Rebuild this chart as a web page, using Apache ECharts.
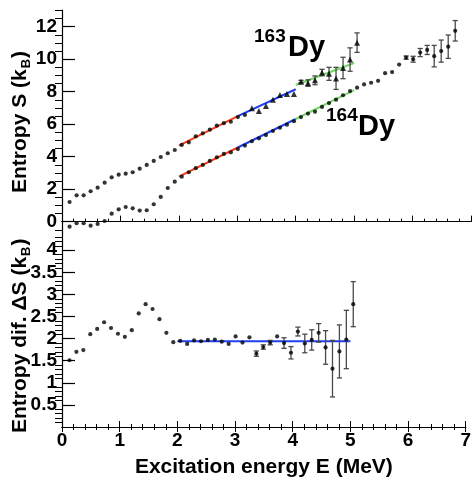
<!DOCTYPE html>
<html><head><meta charset="utf-8">
<script src="https://cdn.jsdelivr.net/npm/echarts@6/dist/echarts.min.js"></script>
<style>html,body{margin:0;padding:0;background:#fff}#c{width:474px;height:479px}</style>
</head><body><div id="c"></div>
<script>
// ---- data ----
const energy = [0.13,0.25,0.37,0.49,0.61,0.73,0.85,0.97,1.09,1.21,1.33,1.45,1.57,1.69,1.81,1.93,2.05,2.17,2.29,2.41,2.53,2.65,2.77,2.89,3.01,3.13,3.25,3.37,3.49,3.61,3.73,3.85,3.97,4.09,4.21,4.33,4.45,4.57,4.69,4.81,4.93,5.05,5.17,5.29,5.41,5.53,5.65,5.77,5.89,6.01,6.13,6.25,6.37,6.49,6.61,6.73];
const s164 = [-0.31,-0.10,-0.10,-0.25,-0.14,0.04,0.49,0.76,0.90,0.82,0.68,0.70,1.07,1.52,2.07,2.46,2.77,3.04,3.29,3.49,3.74,3.96,4.17,4.27,4.47,4.68,4.95,5.13,5.33,5.58,5.78,5.97,6.18,6.44,6.65,6.77,7.06,7.30,7.51,7.78,8.04,8.25,8.45,8.55,8.67,9.14,9.21,9.67,10.10,10.00,10.41,10.57,10.19,10.50,10.77,11.75];
const e164 = [0,0,0,0,0,0,0,0,0,0,0,0,0,0,0,0,0,0,0,0,0,0,0,0,0,0,0,0,0,0,0,0,0,0,0,0,0,0,0,0,0,0,0,0,0,0,0,0,0.10,0.18,0.25,0.28,0.66,0.68,0.72,0.63];
const s163 = [1.21,1.62,1.62,1.87,2.09,2.40,2.73,2.89,2.95,3.04,3.26,3.49,3.74,3.98,4.21,4.41,4.72,4.88,5.25,5.44,5.66,5.91,6.06,6.15,6.44,6.57,6.98,6.81,7.12,7.50,7.80,7.86,7.86,8.62,8.53,8.70,9.18,9.10,8.82,9.46,9.98,11.02];
const e163 = [0,0,0,0,0,0,0,0,0,0,0,0,0,0,0,0,0,0,0,0,0,0,0,0,0,0,0,0,0,0,0,0,0,0.08,0.20,0.27,0.20,0.40,0.68,0.66,0.72,0.60];
const triangleFrom163 = 27; // 163Dy points from this bin onward use triangles
const dS = [1.51,1.70,1.74,2.10,2.22,2.37,2.24,2.11,2.04,2.19,2.57,2.78,2.67,2.44,2.13,1.92,1.95,1.88,1.96,1.94,1.97,1.98,1.93,1.88,2.05,1.91,2.03,1.66,1.81,1.91,2.05,1.90,1.68,2.16,1.89,1.97,2.13,1.80,1.32,1.71,1.98,2.78];
const edS = [0,0,0,0,0,0,0,0,0,0,0,0,0,0,0,0,0,0,0,0,0,0,0,0,0,0,0,0.06,0.05,0.05,0,0.12,0.14,0.10,0.21,0.23,0.21,0.38,0.64,0.60,0.66,0.51];
const fit164Red = [[2.0,2.77],[3.0,4.55]];
const fit164Blue = [[3.0,4.55],[4.0,6.32]];
const fit164Green = [[4.0,6.32],[5.0,8.10]];
const fit163Red = [[2.0,4.68],[3.0,6.48]];
const fit163Blue = [[3.0,6.48],[4.0,8.15]];
const fit163Green = [[4.0,8.41],[5.0,9.77]];
const fitDiff = [[2.0,1.94],[5.0,1.94]];
const xTicks = [0,1,2,3,4,5,6,7];
const topTicks = [0,2,4,6,8,10,12];
const botTicks = [0.5,1,1.5,2,2.5,3,3.5,4];

// ---- build ----
const FONT = '"Liberation Sans", Arial, Helvetica, sans-serif';
const RED = '#f83c1c', BLUE = '#1f3ff0', GREEN = '#74d866';
function pts(xs, ys, from, to){ const o=[]; for(let i=from;i<to;i++) o.push([xs[i],ys[i]]); return o; }
function errs(xs, ys, es){ const o=[]; for(let i=0;i<ys.length;i++) if(es[i]>0) o.push([xs[i],ys[i],es[i]]); return o; }
function minorList(lo, hi, step, majors){ const o=[]; for(let v=lo; v<=hi+1e-9; v+=step){ const r=Math.round(v*1000)/1000; if(!majors.some(m=>Math.abs(m-r)<1e-6)) o.push(r);} return o; }

function errRender(params, api){
  const x=api.value(0), y=api.value(1), e=api.value(2);
  const t=api.coord([x,y+e]), b=api.coord([x,y-e]);
  const w=2.6, st={stroke:'#4a4a4a', lineWidth:1.3};
  return {type:'group', children:[
    {type:'line', shape:{x1:t[0],y1:t[1],x2:b[0],y2:b[1]}, style:st},
    {type:'line', shape:{x1:t[0]-w,y1:t[1],x2:t[0]+w,y2:t[1]}, style:st},
    {type:'line', shape:{x1:b[0]-w,y1:b[1],x2:b[0]+w,y2:b[1]}, style:st}
  ]};
}

const L=62, W=409;
const axLine = {show:true, lineStyle:{color:'#000', width:1.2}};
const chart = echarts.init(document.getElementById('c'), null, {renderer:'canvas'});
const tickX = {show:true, inside:true, length:6, lineStyle:{color:'#000', width:1}};
const minorX = {show:true, splitNumber:5, length:3, lineStyle:{color:'#000', width:1}};
const labelStyle = {fontFamily:FONT, fontWeight:'bold', fontSize:19, color:'#000'};

const option = {
  animation:false,
  backgroundColor:'#fff',
  grid:[
    {left:L, top:10, width:W, height:223},
    {left:L, top:233, width:W, height:205}
  ],
  xAxis:[
    {gridIndex:0, type:'value', position:'bottom', min:0, max:7, interval:1, axisLine:axLine, axisTick:tickX, minorTick:minorX, axisLabel:{show:false}, splitLine:{show:false}},
    {gridIndex:0, type:'value', position:'top', min:0, max:7, axisLine:axLine, axisTick:{show:false}, axisLabel:{show:false}, splitLine:{show:false}},
    {gridIndex:1, type:'value', position:'bottom', min:0, max:7, interval:1, axisLine:axLine, axisTick:tickX, minorTick:minorX,
      axisLabel:Object.assign({show:true, margin:4, customValues:xTicks}, labelStyle), splitLine:{show:false},
      name:'Excitation energy E (MeV)', nameLocation:'middle', nameGap:30,
      nameTextStyle:{fontFamily:FONT, fontWeight:'bold', fontSize:21, color:'#000'}},
    {gridIndex:1, type:'value', position:'top', min:0, max:7, interval:1, axisLine:axLine, axisTick:{show:true, inside:true, length:5, lineStyle:{color:'#000'}}, minorTick:{show:true, splitNumber:5, length:3, lineStyle:{color:'#000'}}, axisLabel:{show:false}, splitLine:{show:false}}
  ],
  yAxis:[
    {gridIndex:0, type:'value', min:-0.7, max:13.03, axisLine:axLine,
      axisTick:{show:true, inside:true, length:13, customValues:topTicks, lineStyle:{color:'#000', width:1.2}},
      axisLabel:Object.assign({show:true, margin:5, customValues:topTicks}, labelStyle), splitLine:{show:false}},
    {gridIndex:0, type:'value', min:-0.7, max:13.03, axisLine:{show:false},
      axisTick:{show:true, inside:true, length:7, customValues:minorList(-0.5,13,0.5,topTicks), lineStyle:{color:'#000', width:1}},
      axisLabel:{show:false}, splitLine:{show:false}},
    {gridIndex:1, type:'value', min:0, max:4.39, axisLine:axLine,
      axisTick:{show:true, inside:true, length:13, customValues:botTicks, lineStyle:{color:'#000', width:1.2}},
      axisLabel:Object.assign({show:true, margin:5, customValues:botTicks}, labelStyle), splitLine:{show:false}},
    {gridIndex:1, type:'value', min:0, max:4.39, axisLine:{show:false},
      axisTick:{show:true, inside:true, length:7, customValues:minorList(0.1,4.3,0.1,botTicks), lineStyle:{color:'#000', width:1}},
      axisLabel:{show:false}, splitLine:{show:false}}
  ],
  series:[
    {type:'line', xAxisIndex:0, yAxisIndex:0, data:fit164Red, symbol:'none', lineStyle:{color:RED, width:2}, z:2},
    {type:'line', xAxisIndex:0, yAxisIndex:0, data:fit164Blue, symbol:'none', lineStyle:{color:BLUE, width:2}, z:2},
    {type:'line', xAxisIndex:0, yAxisIndex:0, data:fit164Green, symbol:'none', lineStyle:{color:GREEN, width:2}, z:2},
    {type:'line', xAxisIndex:0, yAxisIndex:0, data:fit163Red, symbol:'none', lineStyle:{color:RED, width:2}, z:2},
    {type:'line', xAxisIndex:0, yAxisIndex:0, data:fit163Blue, symbol:'none', lineStyle:{color:BLUE, width:2}, z:2},
    {type:'line', xAxisIndex:0, yAxisIndex:0, data:fit163Green, symbol:'none', lineStyle:{color:GREEN, width:2}, z:2},
    {type:'custom', xAxisIndex:0, yAxisIndex:0, renderItem:errRender, data:errs(energy,s164,e164), encode:{x:0,y:1}, z:3},
    {type:'custom', xAxisIndex:0, yAxisIndex:0, renderItem:errRender, data:errs(energy,s163,e163), encode:{x:0,y:1}, z:3},
    {type:'scatter', xAxisIndex:0, yAxisIndex:0, data:pts(energy,s164,0,s164.length), symbol:'circle', symbolSize:4.2, itemStyle:{color:'#000'}, z:4},
    {type:'scatter', xAxisIndex:0, yAxisIndex:0, data:pts(energy,s163,0,triangleFrom163-1), symbol:'circle', symbolSize:4.2, itemStyle:{color:'#000'}, z:4},
    {type:'scatter', xAxisIndex:0, yAxisIndex:0, data:pts(energy,s163,triangleFrom163-1,s163.length), symbol:'triangle', symbolSize:6, itemStyle:{color:'#000'}, z:4},
    {type:'line', xAxisIndex:2, yAxisIndex:2, data:fitDiff, symbol:'none', lineStyle:{color:BLUE, width:2}, z:2},
    {type:'custom', xAxisIndex:2, yAxisIndex:2, renderItem:errRender, data:errs(energy,dS,edS), encode:{x:0,y:1}, z:3},
    {type:'scatter', xAxisIndex:2, yAxisIndex:2, data:pts(energy,dS,0,dS.length), symbol:'circle', symbolSize:4.2, itemStyle:{color:'#000'}, z:4}
  ],
  graphic:[
    {type:'text', x:20, y:193, rotation:Math.PI/2, style:{text:'{a|Entropy S (k}{b|B}{a|)}', textAlign:'left', textVerticalAlign:'middle',
      rich:{a:{fontFamily:FONT, fontWeight:'bold', fontSize:21, fill:'#000'}, b:{fontFamily:FONT, fontWeight:'bold', fontSize:13, fill:'#000', padding:[12,1,0,1]}}}},
    {type:'text', x:20, y:433, rotation:Math.PI/2, style:{text:'{a|Entropy dif. ΔS (k}{b|B}{a|)}', textAlign:'left', textVerticalAlign:'middle',
      rich:{a:{fontFamily:FONT, fontWeight:'bold', fontSize:21, fill:'#000'}, b:{fontFamily:FONT, fontWeight:'bold', fontSize:13, fill:'#000', padding:[12,1,0,1]}}}},
    {type:'text', x:254, y:37, style:{text:'163', font:'bold 19px '+FONT, fill:'#000', textAlign:'left', textVerticalAlign:'middle'}},
    {type:'text', x:288, y:48, style:{text:'Dy', font:'bold 29px '+FONT, fill:'#000', textAlign:'left', textVerticalAlign:'middle'}},
    {type:'text', x:326, y:116, style:{text:'164', font:'bold 19px '+FONT, fill:'#000', textAlign:'left', textVerticalAlign:'middle'}},
    {type:'text', x:358, y:127, style:{text:'Dy', font:'bold 29px '+FONT, fill:'#000', textAlign:'left', textVerticalAlign:'middle'}}
  ]
};
chart.setOption(option);
</script></body></html>
